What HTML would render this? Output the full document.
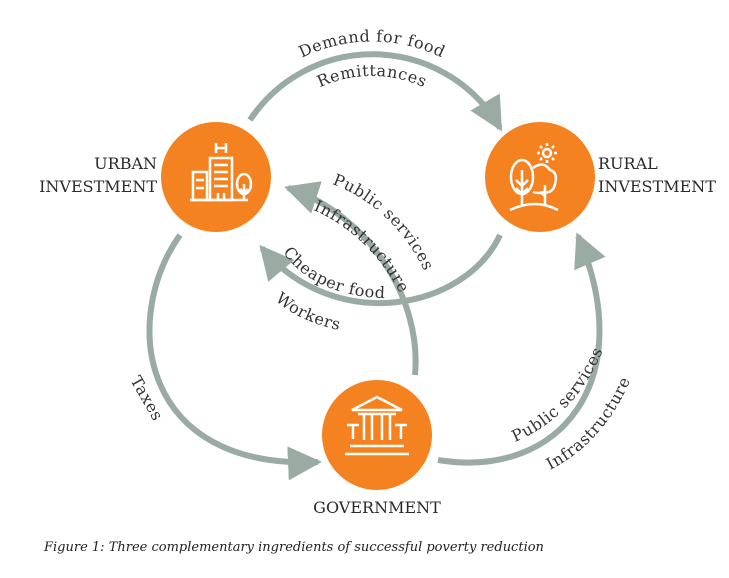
<!DOCTYPE html>
<html><head><meta charset="utf-8"><style>
html,body{margin:0;padding:0;background:#fff;}
svg{display:block;}
.lbl{font-family:"DejaVu Serif","Liberation Serif",serif;font-size:16px;fill:#333;letter-spacing:0.6px;}
.node{font-family:"DejaVu Serif","Liberation Serif",serif;font-size:16px;fill:#2a2a2a;}
</style></head><body>
<svg width="729" height="578" viewBox="0 0 729 578" xmlns="http://www.w3.org/2000/svg">
<defs>
<marker id="ah" markerUnits="userSpaceOnUse" markerWidth="40" markerHeight="40" refX="30" refY="17" orient="auto">
<path d="M0,0 L34,17 L0,34 Z" fill="#9aaba3"/>
</marker>
<path id="tTop1" d="M219,160 A158,158 0 0 1 525,160" fill="none"/>
<path id="tTop2" d="M254.6,160 A124,124 0 0 1 489.4,160"/>
<path id="tCheap" d="M283,252 C300,278 335,296 380,298"/>
<path id="tWork" d="M275,300 C295,318 325,330 365,334"/>
<path id="tPub" d="M332,184 C372,198 412,235 430,285"/>
<path id="tInf" d="M313,210 C350,225 390,262 408,312"/>
<path id="tPub2" d="M515,442 C548,428 585,400 607,340"/>
<path id="tInf2" d="M550,470 C585,452 618,420 638,360"/>
</defs>
<g fill="none" stroke="#9aaba3" stroke-width="6">
<path d="M250,120 A147,147 0 0 1 500,128" marker-end="url(#ah)"/>
<path d="M500,235 C465,310 335,335 262,248" marker-end="url(#ah)"/>
<path d="M415,375 C422,300 370,215 288,188" marker-end="url(#ah)"/>
<path d="M180,235 C120,320 140,470 318,462" marker-end="url(#ah)"/>
<path d="M438,460 C560,480 640,380 578,236" marker-end="url(#ah)"/>
</g>
<text class="lbl"><textPath href="#tTop1" startOffset="50%" text-anchor="middle">Demand for food</textPath></text>
<text class="lbl"><textPath href="#tTop2" startOffset="50%" text-anchor="middle">Remittances</textPath></text>
<text class="lbl"><textPath href="#tCheap">Cheaper food</textPath></text>
<text class="lbl"><textPath href="#tWork">Workers</textPath></text>
<text class="lbl"><textPath href="#tPub">Public services</textPath></text>
<text class="lbl"><textPath href="#tInf">Infrastructure</textPath></text>
<text class="lbl"><textPath href="#tPub2">Public services</textPath></text>
<text class="lbl"><textPath href="#tInf2">Infrastructure</textPath></text>
<text class="lbl" transform="translate(130,380) rotate(60)">Taxes</text>

<circle cx="216" cy="177" r="55" fill="#f58220"/>
<circle cx="540" cy="177" r="55" fill="#f58220"/>
<circle cx="377" cy="435" r="55" fill="#f58220"/>

<g stroke="#fff" stroke-width="2.5" fill="none">
<path d="M190,200 L248,200"/>
<rect x="193" y="172" width="14" height="28"/>
<rect x="210" y="158" width="22" height="42"/>
<path d="M214,165h14M214,172h14M214,179h14M214,186h14M196,180h8M196,188h8M218,193v7M224,193v7"/>
<path d="M216,143v10M226,143v10M216,148h10"/>
<ellipse cx="244" cy="184" rx="7" ry="10"/><path d="M244,184v16M240,189l4,4l4,-4"/>
<ellipse cx="522" cy="177" rx="11" ry="17"/><path d="M522,170v35M516,180l6,6l6,-6M516,188l6,6l6,-6"/>
<path d="M533,168 q10,-8 17,2 q8,2 5,14 q-2,10 -12,8 q-4,2 -10,0"/><path d="M545,185v20M540,192l5,4"/>
<path d="M510,210 q25,-12 48,0"/>
<circle cx="547" cy="153" r="4"/><path d="M547,143v3M547,160v3M537,153h3M554,153h3M540,146l2,2M552,158l2,2M540,160l2,-2M552,148l2,-2"/>
<path d="M352,410 L377,397 L402,410 Z"/>
<path d="M358,414h38M364,414v26M372,414v26M382,414v26M390,414v26"/>
<path d="M347,425h12M353,425v14M395,425h12M401,425v14"/>
<path d="M350,446h54M345,454h64"/>
</g>

<text class="node" x="157" y="169" text-anchor="end">URBAN</text>
<text class="node" x="157" y="192" text-anchor="end">INVESTMENT</text>
<text class="node" x="598" y="169">RURAL</text>
<text class="node" x="598" y="192">INVESTMENT</text>
<text class="node" x="377" y="513" text-anchor="middle">GOVERNMENT</text>
<text x="44" y="551" font-family="'DejaVu Serif','Liberation Serif',serif" font-style="italic" font-size="13" fill="#222">Figure 1: Three complementary ingredients of successful poverty reduction</text>
</svg>
</body></html>
